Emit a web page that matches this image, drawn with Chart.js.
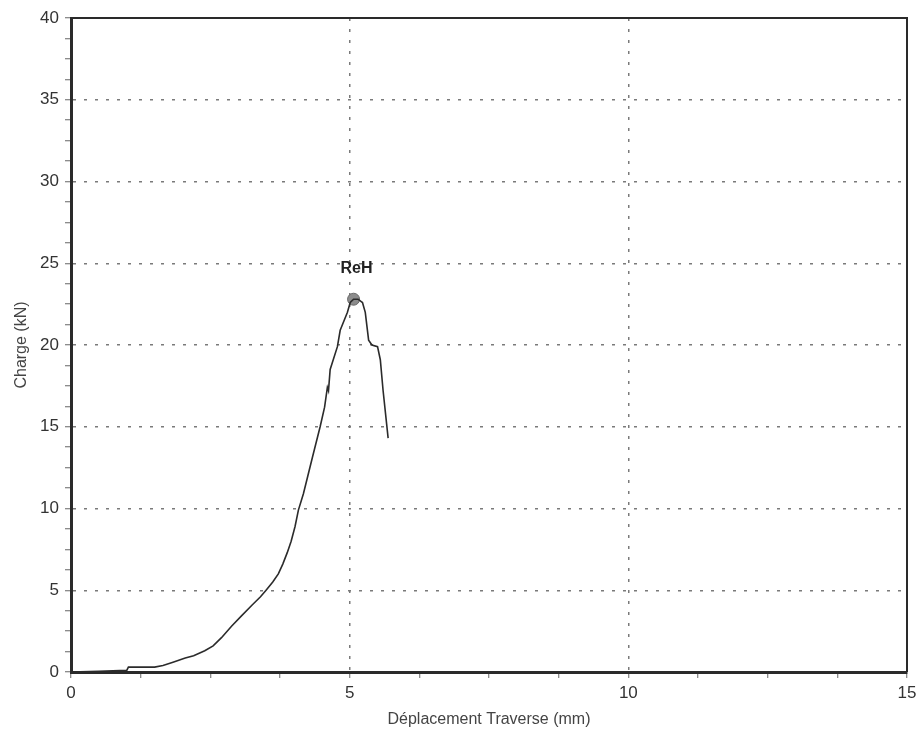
<!DOCTYPE html>
<html>
<head>
<meta charset="utf-8">
<title>Charge - Déplacement</title>
<script src="https://cdn.jsdelivr.net/npm/chart.js@4.4.1/dist/chart.umd.min.js"></script>
<style>
    html, body { margin: 0; padding: 0; background: #fff; }
    #wrap { width: 923px; height: 742px; position: relative; }
</style>
</head>
<body>
<div id="wrap"><canvas id="tensileChart"></canvas></div>
<script>
// Essai de traction : déplacement traverse (mm) / charge (kN)
var displacement = [0, 0.5, 1.0, 1.03, 1.5, 1.65, 1.83, 2.05, 2.2, 2.4, 2.55, 2.7, 2.88, 3.05, 3.25, 3.4, 3.5, 3.62, 3.72, 3.8, 3.88, 3.95, 4.02, 4.08, 4.17, 4.25, 4.33, 4.47, 4.55, 4.6, 4.62, 4.65, 4.78, 4.83, 4.96, 5.01, 5.07, 5.15, 5.23, 5.28, 5.34, 5.4, 5.5, 5.55, 5.6, 5.69];
var load = [0, 0.05, 0.1, 0.3, 0.3, 0.4, 0.6, 0.85, 1.0, 1.3, 1.6, 2.1, 2.8, 3.4, 4.1, 4.6, 5.0, 5.5, 6.0, 6.6, 7.3, 8.0, 8.9, 9.9, 10.9, 12.0, 13.1, 15.0, 16.2, 17.4, 17.2, 18.5, 19.9, 20.9, 22.0, 22.6, 22.8, 22.8, 22.6, 22.0, 20.3, 20.0, 19.9, 19.1, 17.2, 14.3];

// Point ReH (limite supérieure d'écoulement)
var rehLabel = 'ReH';
var rehPoint = { x: 5.07, y: 22.8 };

var xRange = [0, 15];
var yRange = [0, 40];
var majorStep = 5;
var minorStep = 1.25;

function buildTicks(scale, min, max) {
    var ticks = [];
    for (var v = min; v <= max + 1e-9; v += minorStep) {
        ticks.push({ value: Math.round(v * 100) / 100 });
    }
    scale.ticks = ticks;
}

function isMajor(ctx) {
    return ctx.tick && Math.abs(ctx.tick.value % majorStep) < 1e-6;
}

// cadre du graphique (bords haut et droit)
var framePlugin = {
    id: 'frame',
    afterDraw: function (chart) {
        var a = chart.chartArea;
        var c = chart.ctx;
        c.save();
        c.strokeStyle = '#2a2a2a';
        c.lineWidth = 2;
        c.beginPath();
        c.moveTo(a.left, a.top);
        c.lineTo(a.right, a.top);
        c.lineTo(a.right, a.bottom);
        c.stroke();
        c.restore();
    }
};

// étiquette au-dessus du point ReH
var pointLabelPlugin = {
    id: 'pointLabel',
    afterDatasetsDraw: function (chart) {
        var meta = chart.getDatasetMeta(1);
        if (!meta || !meta.data.length) return;
        var p = meta.data[0];
        var c = chart.ctx;
        c.save();
        c.font = 'bold 16px "Liberation Sans", Arial, sans-serif';
        c.fillStyle = '#222';
        c.textAlign = 'center';
        c.textBaseline = 'middle';
        c.fillText(rehLabel, p.x + 3, p.y - 31);
        c.restore();
    }
};

var ctx = document.getElementById('tensileChart').getContext('2d');
new Chart(ctx, {
    type: 'scatter',
    data: {
        datasets: [{
            label: 'Charge',
            data: displacement.map(function (x, i) { return { x: x, y: load[i] }; }),
            showLine: true,
            borderColor: '#2b2b2b',
            borderWidth: 1.6,
            pointRadius: 0,
            tension: 0,
            fill: false
        }, {
            label: rehLabel,
            data: [rehPoint],
            pointRadius: 6,
            pointBackgroundColor: '#8c8c8c',
            pointBorderColor: '#6a6a6a',
            pointBorderWidth: 1
        }]
    },
    options: {
        responsive: true,
        maintainAspectRatio: false,
        animation: false,
        layout: { padding: { left: 0, right: 16, top: 18, bottom: 0 } },
        plugins: {
            legend: { display: false },
            tooltip: { enabled: false }
        },
        scales: {
            x: {
                type: 'linear',
                min: xRange[0],
                max: xRange[1],
                afterBuildTicks: function (scale) { buildTicks(scale, xRange[0], xRange[1]); },
                afterFit: function (scale) { scale.height = 70; },
                ticks: {
                    autoSkip: false,
                    maxRotation: 0,
                    padding: 5,
                    color: '#333',
                    font: { family: '"Liberation Sans", Arial, sans-serif', size: 17 },
                    callback: function (value) { return Math.abs(value % majorStep) < 1e-6 ? value : ''; }
                },
                grid: {
                    color: function (c) { return isMajor(c) ? '#7a7a7a' : 'rgba(0,0,0,0)'; },
                    lineWidth: 1.5,
                    tickColor: '#666',
                    tickLength: 6,
                    tickWidth: 1
                },
                border: { display: true, color: '#2a2a2a', width: 3, dash: [3, 8] },
                title: {
                    display: true,
                    text: 'Déplacement Traverse (mm)',
                    color: '#444',
                    padding: { top: 0, bottom: 13 },
                    font: { family: '"Liberation Sans", Arial, sans-serif', size: 16 }
                }
            },
            y: {
                type: 'linear',
                min: yRange[0],
                max: yRange[1],
                afterBuildTicks: function (scale) { buildTicks(scale, yRange[0], yRange[1]); },
                afterFit: function (scale) { scale.width = 71; },
                ticks: {
                    autoSkip: false,
                    padding: 6,
                    color: '#333',
                    font: { family: '"Liberation Sans", Arial, sans-serif', size: 17 },
                    callback: function (value) { return Math.abs(value % majorStep) < 1e-6 ? value : ''; }
                },
                grid: {
                    color: function (c) { return isMajor(c) ? '#7a7a7a' : 'rgba(0,0,0,0)'; },
                    lineWidth: 1.5,
                    tickColor: '#666',
                    tickLength: 6,
                    tickWidth: 1
                },
                border: { display: true, color: '#2a2a2a', width: 3, dash: [3, 8] },
                title: {
                    display: true,
                    text: 'Charge (kN)',
                    color: '#444',
                    padding: { top: 12, bottom: 0 },
                    font: { family: '"Liberation Sans", Arial, sans-serif', size: 16 }
                }
            }
        }
    },
    plugins: [framePlugin, pointLabelPlugin]
});
</script>
</body>
</html>
